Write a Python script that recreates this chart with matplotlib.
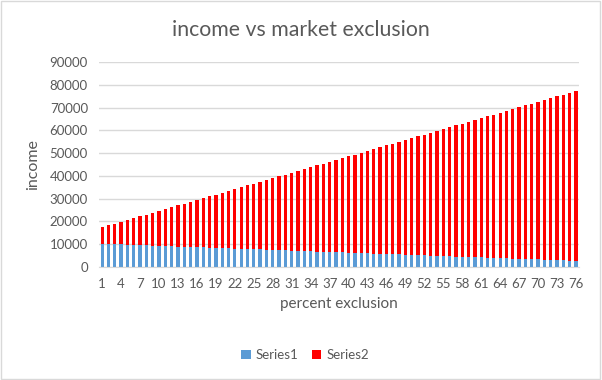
import matplotlib.pyplot as plt
from matplotlib.patches import Rectangle

plt.rcParams['font.family'] = ['Lato', 'DejaVu Sans']

# percent exclusion categories 1..76
categories = list(range(1, 77))

series1 = [10100, 10000, 9900, 9800, 9700, 9600, 9500, 9400, 9300, 9200,
           9100, 9000, 8900, 8800, 8700, 8600, 8500, 8400, 8300, 8200,
           8100, 8000, 7900, 7800, 7700, 7600, 7500, 7400, 7300, 7200,
           7100, 7000, 6900, 6800, 6700, 6600, 6500, 6400, 6300, 6200,
           6100, 6000, 5900, 5800, 5700, 5600, 5500, 5400, 5300, 5200,
           5100, 5000, 4900, 4800, 4700, 4600, 4500, 4400, 4300, 4200,
           4100, 4000, 3900, 3800, 3700, 3600, 3500, 3400, 3300, 3200,
           3100, 3000, 2900, 2800, 2700, 2600]

series2 = [7300, 8200, 9100, 10000, 10900, 11800, 12700, 13600, 14500, 15400,
           16300, 17200, 18100, 19000, 19900, 20800, 21700, 22600, 23500, 24400,
           25300, 26200, 27100, 28000, 28900, 29800, 30700, 31600, 32500, 33400,
           34300, 35200, 36100, 37000, 37900, 38800, 39700, 40600, 41500, 42400,
           43300, 44200, 45100, 46000, 46900, 47800, 48700, 49600, 50500, 51400,
           52300, 53200, 54100, 55000, 55900, 56800, 57700, 58600, 59500, 60400,
           61300, 62200, 63100, 64000, 64900, 65800, 66700, 67600, 68500, 69400,
           70300, 71200, 72100, 73000, 73900, 74800]

yticks = [0, 10000, 20000, 30000, 40000, 50000, 60000, 70000, 80000, 90000]

text_col = '#595959'
grid_col = '#D9D9D9'

fig = plt.figure(figsize=(6.02, 3.8), dpi=100)
ax = fig.add_axes([0.1645, 0.298, 0.7975, 0.538])

x = list(range(len(categories)))
ax.bar(x, series1, width=0.52, color='#5B9BD5', label='Series1', zorder=3)
ax.bar(x, series2, width=0.52, bottom=series1, color='#FF0000', label='Series2', zorder=3)

ax.set_xlim(-0.5, len(categories) - 0.5)
ax.set_ylim(0, 90000)
ax.set_yticks(yticks)
ax.set_yticklabels([str(v) for v in yticks])
ax.set_xticks(x[::3])
ax.set_xticklabels([str(c) for c in categories[::3]])
ax.tick_params(axis='both', length=0, colors=text_col, labelsize=9.5)
ax.tick_params(axis='y', pad=8)
ax.tick_params(axis='x', pad=8)

ax.grid(axis='y', color=grid_col, linewidth=1, zorder=0)
for side in ['top', 'right', 'left']:
    ax.spines[side].set_visible(False)
ax.spines['bottom'].set_color(grid_col)
ax.spines['bottom'].set_zorder(4)

ax.set_ylabel('income', color=text_col, fontsize=11.5, labelpad=7)
ax.set_xlabel('percent exclusion', color=text_col, fontsize=11, labelpad=5)

fig.text(0.5, 1 - 30 / 380, 'income vs market exclusion', ha='center', va='center',
         fontsize=15.3, color=text_col)

leg = fig.legend(loc='center', bbox_to_anchor=(0.507, 1 - 355 / 380), ncol=2,
                 frameon=False, fontsize=9.5, handlelength=0.7, handleheight=0.7,
                 handletextpad=0.4, columnspacing=1.0)
for t in leg.get_texts():
    t.set_color(text_col)

# chart border
fig.patches.append(Rectangle((0.002, 0.003), 0.994, 0.994, transform=fig.transFigure,
                             fill=False, edgecolor=grid_col, linewidth=1))

fig.savefig('out.png', dpi=100, facecolor='white')
